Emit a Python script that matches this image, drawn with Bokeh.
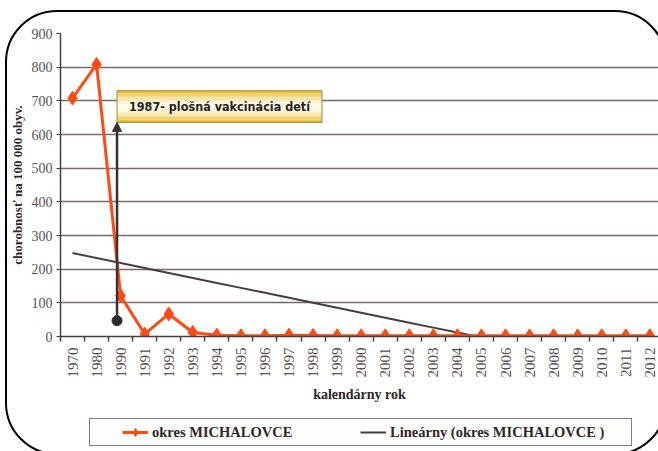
import numpy as np
from bokeh.plotting import figure
from bokeh.models import (FixedTicker, Legend, LegendItem, Arrow, NormalHead, Range1d,
                          InlineStyleSheet)
from bokeh.layouts import column
from bokeh.core.properties import value
from bokeh.embed import file_html
from bokeh.resources import INLINE

# ---- data ----
years = ["1970", "1980", "1990"] + [str(y) for y in range(1991, 2013)]
cases = [708, 808, 121, 7, 67, 12, 4, 2, 2, 4, 3,
         2, 2, 2, 2, 2, 2, 2, 2, 2, 2, 2, 2, 2, 2]
y_ticks = [0, 100, 200, 300, 400, 500, 600, 700, 800, 900]
series_name = "okres MICHALOVCE"
trend_name = "Lineárny (okres MICHALOVCE )"
note_text = "1987- plošná vakcinácia detí"
note_left, note_right, note_bottom, note_top = 1.85, 10.37, 636, 730
arrow_x, arrow_y0 = 1.85, 47

idx = list(range(len(years)))

RED = "#ff4a14"
DARK = "#4a3c3c"
SERIF = "Liberation Serif"

p = figure(width=658, height=410, x_range=Range1d(-0.5, 24.36), y_range=Range1d(0, 900),
           output_backend="svg", toolbar_location=None,
           min_border_left=60, min_border_right=0, min_border_top=33, min_border_bottom=74)
p.outline_line_color = None
p.background_fill_color = "white"
p.border_fill_color = "white"

# x axis
xa = p.xaxis[0]
xa.ticker = FixedTicker(ticks=idx, minor_ticks=[i - 0.5 for i in range(len(years) + 1)])
xa.major_label_overrides = {i: y for i, y in enumerate(years)}
xa.major_label_orientation = np.pi / 2
xa.major_tick_out = 0
xa.major_tick_in = 0
xa.minor_tick_out = 5
xa.minor_tick_in = 0
xa.minor_tick_line_color = "#4d3d3d"
xa.minor_tick_line_width = 1.5
xa.axis_line_color = "#4d3d3d"
xa.axis_line_width = 1.5
xa.major_label_standoff = 6
xa.major_label_text_font = SERIF
xa.major_label_text_font_size = "15px"
xa.major_label_text_color = "#5a5050"
xa.axis_label = "kalendárny rok"
xa.axis_label_standoff = 6
xa.axis_label_text_font = SERIF
xa.axis_label_text_font_style = "bold"
xa.axis_label_text_font_size = "14px"
xa.axis_label_text_color = "#2e2626"

# y axis
ya = p.yaxis[0]
ya.ticker = FixedTicker(ticks=y_ticks)
ya.major_tick_out = 4
ya.major_tick_in = 0
ya.minor_tick_out = 0
ya.minor_tick_in = 0
ya.major_tick_line_color = "#4d3d3d"
ya.axis_line_color = "#4d3d3d"
ya.axis_line_width = 1.5
ya.major_label_standoff = 4
ya.major_label_text_font = SERIF
ya.major_label_text_font_size = "14px"
ya.major_label_text_color = "#5a5050"
ya.axis_label = "chorobnosť na 100 000 obyv."
ya.axis_label_standoff = 4
ya.axis_label_text_font = SERIF
ya.axis_label_text_font_style = "bold"
ya.axis_label_text_font_size = "13px"
ya.axis_label_text_color = "#2e2626"

p.xgrid.visible = False
p.ygrid.grid_line_color = "#7a6a6a"
p.ygrid.grid_line_width = 1.5

# annotation box with vertical gold gradient
n_bands = 24
h = (note_top - note_bottom) / n_bands
gold = np.array([232, 180, 28])
light = np.array([255, 253, 235])
for k in range(n_bands):
    c = (k + 0.5) / n_bands
    t = min(1.0, abs(c - 0.5) / 0.5) ** 1.6
    rgb = (light + (gold - light) * t).astype(int)
    p.quad(left=note_left, right=note_right, bottom=note_bottom + k * h,
           top=note_bottom + (k + 1) * h + 0.3, fill_color="#%02x%02x%02x" % tuple(rgb),
           line_color=None)
p.quad(left=note_left, right=note_right, bottom=note_bottom, top=note_top,
       fill_alpha=0, line_color="#a08a40", line_width=1)
p.text(x=[(note_left + note_right) / 2], y=[(note_bottom + note_top) / 2], text=[note_text],
       text_align="center", text_baseline="middle",
       text_font=value("DejaVu Sans Condensed, Roboto"),
       text_font_style="bold", text_font_size="12.5px", text_color="#2a2020")

# arrow
p.add_layout(Arrow(x_start=arrow_x, y_start=arrow_y0, x_end=arrow_x, y_end=note_bottom,
                   line_color="#3a3030", line_width=2.5,
                   end=NormalHead(size=9, fill_color="#3a3030", line_color="#3a3030")))
p.scatter([arrow_x], [arrow_y0], marker="circle", size=10, color="#2a2a30")

# trend (linear fit of the series)
coef = np.polyfit(idx, cases, 1)
trend = np.polyval(coef, idx)
p.line(idx, trend, color=DARK, line_width=2)

# series
p.line(idx, cases, color=RED, line_width=3)
p.scatter(idx, cases, marker="diamond", size=14, color=RED)

# ---- legend strip (own small figure under the chart; its ranges keep the data out of view) ----
pl = figure(width=658, height=41, x_range=Range1d(1000, 1001), y_range=Range1d(5000, 5001),
            output_backend="svg", toolbar_location=None,
            x_axis_location=None, y_axis_location=None, min_border=0)
pl.outline_line_color = None
pl.grid.visible = False
lg_line = pl.line(idx, cases, color=RED, line_width=3)
lg_pts = pl.scatter(idx, cases, marker="diamond", size=14, color=RED)
lg_trend = pl.line(idx, trend, color=DARK, line_width=2)
legend = Legend(items=[LegendItem(label=series_name, renderers=[lg_line, lg_pts]),
                       LegendItem(label=trend_name, renderers=[lg_trend])],
                orientation="horizontal", location=(58, 5),
                label_text_font=SERIF, label_text_font_style="bold",
                label_text_font_size="14.5px", label_text_color="#2e2626",
                glyph_width=26, label_standoff=4, spacing=2, label_width=206,
                padding=4, margin=0, border_line_alpha=0, background_fill_alpha=0)
pl.add_layout(legend)

# legend frame and the outer rounded frame of the picture
css = """
:host { position: relative; overflow: hidden; }
:host::before { content: ""; position: absolute; left: 89px; top: 418px; width: 543px;
  height: 28px; box-sizing: border-box; border: 1.5px solid #8a7a8a;
  pointer-events: none; z-index: 50; }
:host::after { content: ""; position: absolute; left: 5px; top: 10px; width: 662px;
  height: 445px; box-sizing: border-box; border: 2px solid #000; border-radius: 52px;
  pointer-events: none; z-index: 50; }
"""
root = column(p, pl, spacing=0, stylesheets=[InlineStyleSheet(css=css)])

open("out.html", "w").write(file_html(root, INLINE))
